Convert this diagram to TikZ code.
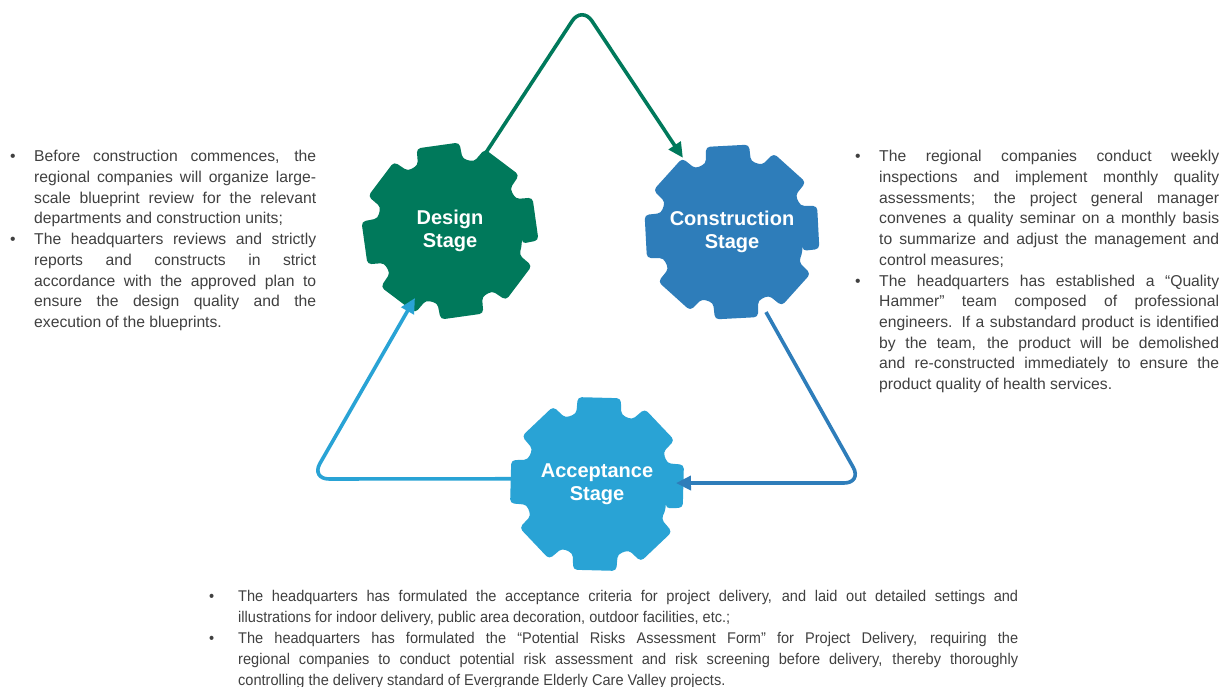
\documentclass[tikz,border=0pt]{standalone}
\usepackage{fontspec}
\setmainfont{Liberation Sans}
\newfontfamily\narrowfont[FakeStretch=0.94]{Liberation Sans}
\usepackage{enumitem}
\usetikzlibrary{arrows.meta,backgrounds}
\definecolor{designgreen}{RGB}{0,121,91}
\definecolor{buildblue}{RGB}{46,125,186}
\definecolor{acceptblue}{RGB}{41,163,213}
\definecolor{bodygrey}{RGB}{64,64,64}
\hyphenpenalty=10000
\setlist[itemize]{label=\textbullet, leftmargin=24pt, labelwidth=24pt, labelsep=0pt, align=left, itemsep=0pt, topsep=0pt, parsep=0pt, partopsep=0pt}

% cog wheel: centre, rotation, colour
\newcommand{\cogwheel}[3]{%
  \fill[#3, rounded corners=4pt, shift={(#1)}, rotate=#2]
    (-18:73pt) \foreach \k in {0,...,7} {
      -- (\k*45-14:89pt) -- (\k*45+14:89pt) -- (\k*45+18:73pt)
      arc[start angle=\k*45+18, end angle=\k*45+27, radius=73pt]
    } -- cycle;}

\begin{document}
\begin{tikzpicture}[x=1pt, y=1pt,
        stagelabel/.style={text=white, align=center, inner sep=0pt, font=\bfseries\fontsize{20}{23}\selectfont},
        notes/.style={text=bodygrey, inner sep=0pt, anchor=north west, align=justify, font=\fontsize{15.7}{20.7}\selectfont},
        flow/.style={line width=3.6pt, rounded corners=18pt, -{Triangle[length=15pt,width=14pt]}}]
        \useasboundingbox (0,0) rectangle (1229,-687);
        \node[stagelabel] (design) at (450,-231) {Design\\Stage};
        \node[stagelabel] (construction) at (732,-232) {Construction\\Stage};
        \node[stagelabel] (acceptance) at (597,-484) {Acceptance\\Stage};
        \begin{scope}[on background layer]
            \fill[white] (0,0) rectangle (1229,-687);
            \cogwheel{design}{8}{designgreen}
            \cogwheel{construction}{3}{buildblue}
            \cogwheel{acceptance}{-1.5}{acceptblue}
        \end{scope}
        % connector ends
        \coordinate (dout) at ([shift={(66.4:77pt)}]design.center);
        \coordinate (din) at ([shift={(242.4:75.6pt)}]design.center);
        \coordinate (cin) at ([shift={(123.5:89pt)}]construction.center);
        \coordinate (cout) at ([shift={(-67:87pt)}]construction.center);
        \coordinate (ain) at ([shift={(0.7:79pt)}]acceptance.center);
        \coordinate (aout) at ([shift={(176:75pt)}]acceptance.center);
        \coordinate (topbend) at (582,-6);
        \coordinate (rightbend) at (862,-483);
        \coordinate (leftbend) at (311,-479);
        \draw[flow, designgreen] (dout) -- (topbend) -- (cin);
        \draw[flow, buildblue] (cout) -- (rightbend) -- (ain);
        \draw[flow, acceptblue] (aout) -- (leftbend) -- (din);
        % notes
        \node[notes, text width=306pt] (designnotes) at (10,-141) {%
            \begin{itemize}
            \item Before construction commences, the\linebreak regional companies will organize large-\linebreak scale blueprint review for the relevant\linebreak departments and construction units;
            \item The headquarters reviews and strictly\linebreak reports and constructs in strict\linebreak accordance with the approved plan to\linebreak ensure the design quality and the\linebreak execution of the blueprints.
            \end{itemize}};
        \node[notes, text width=364pt] (constructionnotes) at (855,-141) {%
            \begin{itemize}
            \item The regional companies conduct weekly\linebreak inspections and implement monthly quality\linebreak assessments; the project general manager\linebreak convenes a quality seminar on a monthly basis\linebreak to summarize and adjust the management and\linebreak control measures;
            \item The headquarters has established a “Quality\linebreak Hammer” team composed of professional\linebreak engineers. If a substandard product is identified\linebreak by the team, the product will be demolished\linebreak and re-constructed immediately to ensure the\linebreak product quality of health services.
            \end{itemize}};
        \node[notes, text width=809pt, font=\narrowfont\fontsize{15.5}{21}\selectfont] (acceptancenotes) at (209,-580) {%
            \begin{itemize}[leftmargin=29pt, labelwidth=29pt]
            \item The headquarters has formulated the acceptance criteria for project delivery, and laid out detailed settings and\linebreak illustrations for indoor delivery, public area decoration, outdoor facilities, etc.;
            \item The headquarters has formulated the “Potential Risks Assessment Form” for Project Delivery, requiring the\linebreak regional companies to conduct potential risk assessment and risk screening before delivery, thereby thoroughly\linebreak controlling the delivery standard of Evergrande Elderly Care Valley projects.
            \end{itemize}};
\end{tikzpicture}
\end{document}
